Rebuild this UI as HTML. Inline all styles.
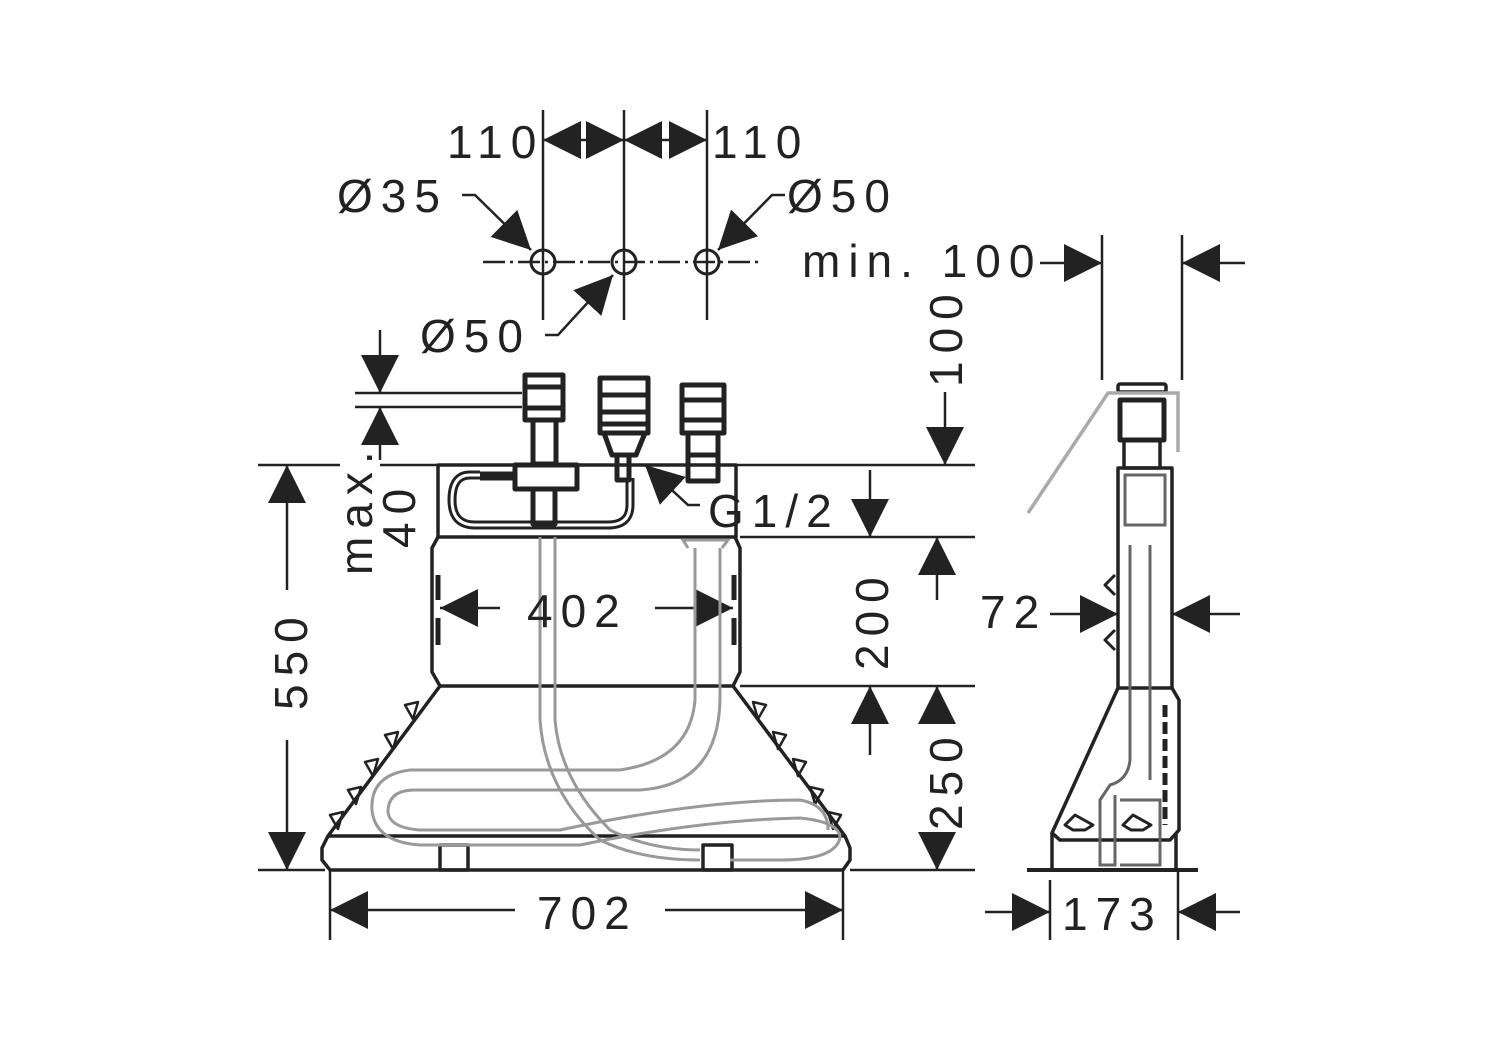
<!DOCTYPE html>
<html><head><meta charset="utf-8"><style>
html,body{margin:0;padding:0;background:#fff;}
svg{display:block;}
text{font-family:"Liberation Sans",sans-serif;fill:#222;font-size:46px;letter-spacing:8px;}
</style></head><body>
<svg width="1495" height="1056" viewBox="0 0 1495 1056" xmlns="http://www.w3.org/2000/svg">
<defs>
<marker id="a" viewBox="0 0 10 10" refX="10" refY="5" markerWidth="38" markerHeight="38" markerUnits="userSpaceOnUse" orient="auto"><path d="M0,0 L10,5 L0,10 Z" fill="#222"/></marker>
</defs>
<g stroke="#222" stroke-width="2.5" fill="none">
<line x1="543" y1="110" x2="543" y2="320"/>
<line x1="624" y1="110" x2="624" y2="320"/>
<line x1="707" y1="110" x2="707" y2="320"/>
<line x1="483" y1="262" x2="763" y2="262" stroke-dasharray="22,5,3,5"/>
<circle cx="543" cy="262" r="12" stroke-width="3"/>
<circle cx="624" cy="262" r="12" stroke-width="3"/>
<circle cx="707" cy="262" r="12" stroke-width="3"/>
<line x1="583" y1="140" x2="543" y2="140" marker-end="url(#a)"/>
<line x1="583" y1="140" x2="624" y2="140" marker-end="url(#a)"/>
<line x1="665" y1="140" x2="624" y2="140" marker-end="url(#a)"/>
<line x1="665" y1="140" x2="707" y2="140" marker-end="url(#a)"/>
<polyline points="462,195 475,195 531,250" marker-end="url(#a)"/>
<polyline points="785,195 772,195 718,250" marker-end="url(#a)"/>
<polyline points="545,335 558,335 613,275" marker-end="url(#a)"/>
<line x1="1102" y1="235" x2="1102" y2="380"/>
<line x1="1182" y1="235" x2="1182" y2="380"/>
<line x1="1040" y1="263" x2="1102" y2="263" marker-end="url(#a)"/>
<line x1="1245" y1="263" x2="1182" y2="263" marker-end="url(#a)"/>
<line x1="258" y1="465" x2="340" y2="465"/>
<line x1="380" y1="465" x2="975" y2="465"/>
<line x1="740" y1="537" x2="975" y2="537"/>
<line x1="740" y1="686" x2="975" y2="686"/>
<line x1="258" y1="870" x2="325" y2="870"/>
<line x1="850" y1="870" x2="975" y2="870"/>
<line x1="355" y1="393" x2="522" y2="393"/>
<line x1="355" y1="407" x2="522" y2="407"/>
<line x1="380" y1="330" x2="380" y2="393" marker-end="url(#a)"/>
<line x1="380" y1="460" x2="380" y2="407" marker-end="url(#a)"/>
<line x1="287" y1="590" x2="287" y2="465" marker-end="url(#a)"/>
<line x1="287" y1="740" x2="287" y2="870" marker-end="url(#a)"/>
<line x1="945" y1="392" x2="945" y2="465" marker-end="url(#a)"/>
<line x1="870" y1="470" x2="870" y2="537" marker-end="url(#a)"/>
<line x1="937" y1="600" x2="937" y2="537" marker-end="url(#a)"/>
<line x1="870" y1="755" x2="870" y2="686" marker-end="url(#a)"/>
<line x1="937" y1="720" x2="937" y2="686" marker-end="url(#a)"/>
<line x1="937" y1="840" x2="937" y2="870" marker-end="url(#a)"/>
<line x1="500" y1="608" x2="440" y2="608" marker-end="url(#a)"/>
<line x1="655" y1="608" x2="733" y2="608" marker-end="url(#a)"/>
<line x1="330" y1="870" x2="330" y2="940"/>
<line x1="843" y1="870" x2="843" y2="940"/>
<line x1="515" y1="910" x2="330" y2="910" marker-end="url(#a)"/>
<line x1="665" y1="910" x2="843" y2="910" marker-end="url(#a)"/>
<polyline points="700,505 688,505 645,465" marker-end="url(#a)"/>
<line x1="1050" y1="614" x2="1118" y2="614" marker-end="url(#a)"/>
<line x1="1240" y1="614" x2="1172" y2="614" marker-end="url(#a)"/>
<line x1="1050" y1="880" x2="1050" y2="940"/>
<line x1="1178" y1="870" x2="1178" y2="940"/>
<line x1="985" y1="912" x2="1050" y2="912" marker-end="url(#a)"/>
<line x1="1240" y1="912" x2="1178" y2="912" marker-end="url(#a)"/>
</g>
<g stroke="#222" stroke-width="3.5" fill="none" stroke-linejoin="round">
<rect x="438" y="465" width="298" height="72"/>
<path d="M438,537 L432,548 L432,672 L440,686 L733,686 L740,672 L740,548 L735,537"/>
<path d="M440,686 L328,836 L845,836 L733,686"/>
<path d="M328,836 L322,848 L322,860 L330,870 L843,870 L850,860 L850,848 L845,836"/>
<rect x="440" y="845" width="28" height="25"/>
<rect x="703" y="845" width="29" height="25"/>
<line x1="438" y1="575" x2="438" y2="600" stroke-width="5"/><line x1="438" y1="618" x2="438" y2="645" stroke-width="5"/>
<line x1="734" y1="575" x2="734" y2="600" stroke-width="5"/><line x1="734" y1="618" x2="734" y2="645" stroke-width="5"/>
<g stroke-width="2.5">
<path d="M405,705 l13,-3 l-5,17z M385,735 l13,-3 l-5,17z M365,762 l13,-3 l-5,17z M348,790 l13,-3 l-5,17z M330,815 l13,-3 l-5,17z"/>
<path d="M766,705 l-13,-3 l5,17z M786,735 l-13,-3 l5,17z M806,762 l-13,-3 l5,17z M823,790 l-13,-3 l5,17z M841,815 l-13,-3 l5,17z"/>
</g>
<path d="M480,475 L470,475 Q452,475 452,500 Q452,525 475,525 L608,525 Q630,525 630,505 L630,478" stroke-width="9"/>
<path d="M480,475 L470,475 Q452,475 452,500 Q452,525 475,525 L608,525 Q630,525 630,505 L630,478" stroke="#fff" stroke-width="3"/>
<line x1="480" y1="476" x2="515" y2="476" stroke-width="9"/>
<g stroke-width="5">
<rect x="525" y="375" width="38" height="45" fill="#fff"/>
<line x1="525" y1="387" x2="563" y2="387"/><line x1="525" y1="408" x2="563" y2="408"/>
<rect x="533" y="420" width="23" height="44"/>
<rect x="515" y="465" width="62" height="24" fill="#fff"/>
<rect x="533" y="489" width="22" height="35"/>
<rect x="600" y="378" width="48" height="55" fill="#fff"/>
<line x1="600" y1="395" x2="648" y2="395"/><line x1="600" y1="412" x2="648" y2="412"/><line x1="600" y1="424" x2="648" y2="424"/>
<path d="M604,433 L612,455 L636,455 L645,433"/>
<rect x="617" y="455" width="12" height="25"/>
<rect x="682" y="385" width="42" height="48" fill="#fff"/>
<line x1="682" y1="400" x2="724" y2="400"/><line x1="682" y1="420" x2="724" y2="420"/>
<rect x="688" y="433" width="30" height="48"/>
<line x1="688" y1="455" x2="718" y2="455"/>
</g>
</g>
<g stroke="#999" stroke-width="3" fill="none">
<path d="M540,537 L540,720 Q545,790 600,840 Q640,860 700,860"/>
<path d="M555,537 L555,720 Q560,780 610,830 Q650,850 700,850"/>
<path d="M695,548 L695,700 Q690,760 620,770 L410,770 Q370,775 372,810 Q375,842 420,845 L580,845 Q700,820 800,818 Q840,822 840,838 Q835,860 780,860 L730,860"/>
<path d="M720,548 L720,700 Q718,785 640,790 L415,790 Q388,790 388,812 Q390,828 420,830 L560,830 Q700,800 800,800 Q828,805 828,830"/>
<path d="M688,548 L683,540 L728,540 L722,548"/>
</g>
<g stroke="#222" stroke-width="3.5" fill="none" stroke-linejoin="round">
<rect x="1118" y="468" width="54" height="220"/>
<path d="M1118,688 L1052,833 L1060,840 L1170,840 L1179,830 L1179,700 L1172,688"/>
<line x1="1052" y1="833" x2="1052" y2="870"/>
<line x1="1176" y1="833" x2="1176" y2="870"/>
<line x1="1027" y1="870" x2="1198" y2="870" stroke-width="4"/>
<rect x="1118" y="384" width="48" height="8" rx="2" fill="#fff"/>
<rect x="1120" y="400" width="44" height="40" stroke-width="5"/>
<rect x="1124" y="440" width="36" height="28"/>
<line x1="1165" y1="705" x2="1165" y2="825" stroke-width="5" stroke-dasharray="12,5"/>
<path d="M1115,575 l-10,10 l10,10 M1115,630 l-10,10 l10,10" stroke-width="3"/>
<path d="M1075,815 l-10,10 l8,5 l12,0 l8,-5z M1133,815 l-10,10 l8,5 l12,0 l8,-5z" stroke-width="3"/>
</g>
<g stroke="#666" stroke-width="3" fill="none">
<rect x="1125" y="475" width="40" height="50"/>
<line x1="1130" y1="545" x2="1130" y2="760"/>
<line x1="1150" y1="545" x2="1150" y2="780"/>
<path d="M1130,760 Q1128,780 1110,785 L1100,800 L1100,865 L1115,865 L1115,795"/>
<path d="M1120,800 L1160,800 L1160,865 L1120,865"/>
</g>
<path d="M1028,513 L1108,393 L1178,393 L1178,452" stroke="#aaa" stroke-width="3.5" fill="none"/>
<text x="447" y="158">110</text>
<text x="712" y="158">110</text>
<text x="337" y="212">Ø35</text>
<text x="787" y="212">Ø50</text>
<text x="420" y="352">Ø50</text>
<text x="802" y="277">min. 100</text>
<text x="708" y="527">G1/2</text>
<text x="527" y="627">402</text>
<text x="537" y="929">702</text>
<text x="980" y="628">72</text>
<text x="1062" y="930">173</text>
<text transform="translate(307,710) rotate(-90)">550</text>
<text transform="translate(372,575) rotate(-90)">max.</text>
<text transform="translate(415,548) rotate(-90)">40</text>
<text transform="translate(962,387) rotate(-90)">100</text>
<text transform="translate(888,670) rotate(-90)">200</text>
<text transform="translate(962,830) rotate(-90)">250</text>
</svg>
</body></html>
